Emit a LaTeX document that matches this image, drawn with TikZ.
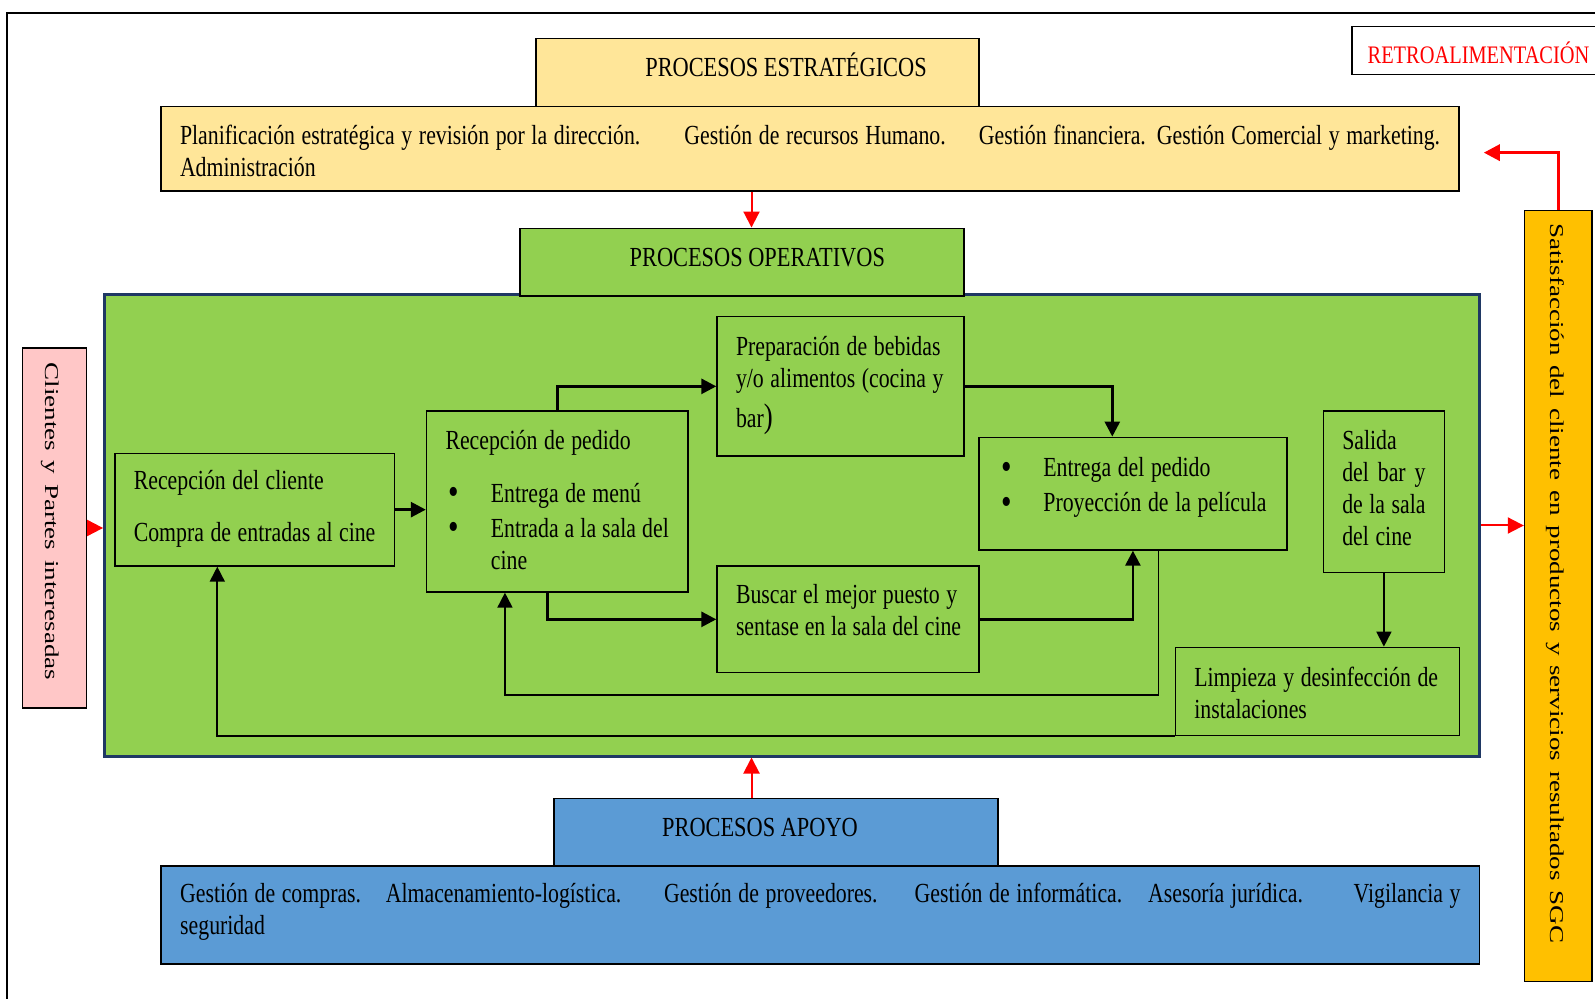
\documentclass[tikz,border=0pt]{standalone}
\usepackage{fontspec}
\setmainfont{Liberation Serif}[FakeStretch=0.79]
\newfontfamily\capsfont{Liberation Serif}[FakeStretch=0.81]
\newfontfamily\sidefont{Liberation Serif}[FakeStretch=1.38, WordSpace=1.45]
\usetikzlibrary{arrows.meta}
\definecolor{estrfill}{HTML}{FFE699}
\definecolor{opsfill}{HTML}{92D050}
\definecolor{opsborder}{HTML}{1F3864}
\definecolor{apoyofill}{HTML}{5B9BD5}
\definecolor{satisfill}{HTML}{FFC000}
\definecolor{clifill}{HTML}{FFC7C7}
\newcommand{\bul}{\makebox[22.7pt][l]{\hspace{1.6pt}\raisebox{-1.2pt}{\fontsize{19}{19}\selectfont\textbullet}}}
\newcommand{\lastdp}[1]{\rule[-#1]{0pt}{0pt}}

\begin{document}
\begin{tikzpicture}[x=0.5pt,y=-0.5pt,
  box/.style={draw, line width=0.7pt, inner xsep=9.5pt, inner ysep=0pt, align=left, text height=9.5pt, font=\fontsize{13.8}{16}\selectfont, execute at begin node={\hyphenpenalty=10000\exhyphenpenalty=10000\spaceskip=3.3pt plus 1pt minus 0.4pt}},
  area/.style={draw, inner sep=0pt},
  hd/.style={draw, line width=0.75pt, inner sep=0pt},
  hdtxt/.style={anchor=base, inner sep=0pt, font=\capsfont\fontsize{13.8}{16}\selectfont},
  sidetxt/.style={rotate=-90, inner sep=0pt, font=\sidefont\fontsize{9.8}{12}\selectfont},
  arr/.style={-{Triangle[length=7.5pt,width=7.5pt]}, line width=1.4pt},
  arrthin/.style={arr, line width=0.9pt},
  redarr/.style={red, line width=1pt, -{Triangle[length=8pt,width=8pt]}}]
\useasboundingbox (0,0) rectangle (1595,999);
\draw[line width=1.2pt] (7,999) |- (1595,13);

\node[hd, fill=estrfill, minimum width=221.5pt, minimum height=34.2pt] (estrhd) at (757.5,72.5) {};
\node[hdtxt] (estrhdtxt) at ([xshift=14.25pt,yshift=-2.1pt]estrhd.center) {PROCESOS ESTRATÉGICOS};
\node[box, line width=0.8pt, fill=estrfill, minimum width=649pt, minimum height=42.15pt, text width=630pt, text height=12pt] (estr) at (810,148.85)
  {\makebox[630pt][l]{Planificación estratégica y revisión por la dirección.\hspace{0pt plus 4fill}Gestión de recursos Humano.\hspace{0pt plus 3fill}Gestión financiera.\hspace{5.5pt}Gestión Comercial y marketing.}\\Administración};

\node[area, fill=opsfill, draw=opsborder, line width=1.5pt, minimum width=687.45pt, minimum height=230.5pt] (ops) at (792.05,525.5) {};
\node[hd, fill=opsfill, minimum width=222pt, minimum height=33.85pt] (operhd) at (742,262.15) {};
\node[hdtxt] (operhdtxt) at ([xshift=7.65pt,yshift=-2.3pt]operhd.center) {PROCESOS OPERATIVOS};

\node[hd, fill=apoyofill, minimum width=222pt, minimum height=33.7pt] (apoyohd) at (776,832) {};
\node[hdtxt] (apoyohdtxt) at ([xshift=-8pt,yshift=-2.35pt]apoyohd.center) {PROCESOS APOYO};
\node[box, line width=0.8pt, fill=apoyofill, minimum width=659.15pt, minimum height=49.15pt, text width=640.15pt] (apoyo) at (820.35,914.85)
  {\makebox[640.15pt][l]{Gestión de compras.\hspace{0pt plus 22fill}Almacenamiento-logística.\hspace{0pt plus 38fill}Gestión de proveedores.\hspace{0pt plus 33fill}Gestión de informática.\hspace{0pt plus 23fill}Asesoría jurídica.\hspace{0pt plus 45fill}Vigilancia y}\\seguridad\lastdp{6.05pt}};

\node[area, line width=0.7pt, fill=clifill, minimum width=32.2pt, minimum height=180pt] (clientes) at (54.5,528) {};
\node[sidetxt] (clientestxt) at ([xshift=-2.4pt,yshift=3.3pt]clientes.center) {Clientes y Partes interesadas};
\node[area, line width=0.7pt, fill=satisfill, minimum width=33.75pt, minimum height=385.5pt] (satis) at (1558.25,596.2) {};
\node[sidetxt] (satistxt) at ([xshift=-1.5pt,yshift=6.4pt]satis.center) {Satisfacción del cliente en productos y servicios resultados SGC};

\node[area, line width=0.7pt, fill=white, minimum width=126.5pt, minimum height=24pt] (retro) at (1478.5,50.7) {};
\node[hdtxt, red, font=\capsfont\fontsize{12.6}{14}\selectfont] (retrotxt) at ([yshift=-6.3pt]retro.center) {RETROALIMENTACIÓN};

\node[box, fill=opsfill, minimum width=139.8pt, minimum height=56.35pt, text width=120.8pt] (cliente) at (254.6,509.65)
  {Recepción del cliente\\[9.85pt]Compra~de~entradas~al~cine\lastdp{3.3pt}};
\node[box, fill=opsfill, minimum width=130.65pt, minimum height=90.5pt, text width=111.65pt] (pedido) at (557.15,501.5)
  {Recepción de pedido\\[10.5pt]\bul Entrega~de~menú\\[1.5pt]\bul Entrada~a~la~sala~del\\\hspace*{22.7pt}cine\lastdp{1.8pt}};
\node[box, fill=opsfill, minimum width=123.4pt, minimum height=69.65pt, text width=104.4pt] (prep) at (840.4,386.35)
  {Preparación~de~bebidas\\y/o~alimentos~(cocina~y\\[4pt]bar{\fontsize{17}{17}\selectfont)}\lastdp{4.35pt}};
\node[box, fill=opsfill, minimum width=131pt, minimum height=53.35pt, text width=112pt] (buscar) at (848,619.35)
  {Buscar~el~mejor~puesto~y\\sentase~en~la~sala~del~cine\lastdp{9.7pt}};
\node[box, fill=opsfill, minimum width=153.9pt, minimum height=56.35pt, text width=134.9pt] (entrega) at (1132.9,493.65)
  {\bul Entrega~del~pedido\\[1.5pt]\bul Proyección~de~la~película\lastdp{9pt}};
\node[box, fill=opsfill, minimum width=60.6pt, minimum height=80.85pt, text width=41.6pt] (salida) at (1383.9,491.85)
  {Salida\\\makebox[41.6pt][s]{del bar y}\\de~la~sala\\del~cine\lastdp{3.35pt}};
\node[box, fill=opsfill, minimum width=141.95pt, minimum height=44pt, text width=122.95pt, text height=11.5pt] (limpieza) at (1317.25,691.3)
  {Limpieza~y~desinfección~de\\instalaciones};

\draw[arr] (cliente.east) -- (cliente.east -| pedido.west);
\draw[arr] (pedido.north) |- (prep.west);
\draw[arr] (prep.east) -| ([xshift=-10.3pt]entrega.north);
\draw[arr] ([xshift=-4.8pt]pedido.south) |- (buscar.west);
\draw[arr] (buscar.east) -| (entrega.south);
\draw[arrthin] ([xshift=12.75pt]entrega.south) -- ++(0,144) -| ([xshift=-26.1pt]pedido.south);
\draw[arrthin] (limpieza.south west) -| ([xshift=-18.65pt]cliente.south);
\draw[arrthin] (salida.south) -- (limpieza.north -| salida.south);

\coordinate (axis) at (751.5,0);
\draw[redarr] (estr.south -| axis) -- (operhd.north -| axis);
\draw[redarr] (apoyohd.north -| axis) -- (ops.south -| axis);
\draw[redarr] (clientes.east) -- (clientes.east -| ops.west);
\draw[redarr] (ops.east) -- (ops.east -| satis.west);
\draw[redarr, line width=1.6pt] (satis.north) |- ([xshift=12pt,yshift=-1.9pt]estr.east);
\end{tikzpicture}
\end{document}
